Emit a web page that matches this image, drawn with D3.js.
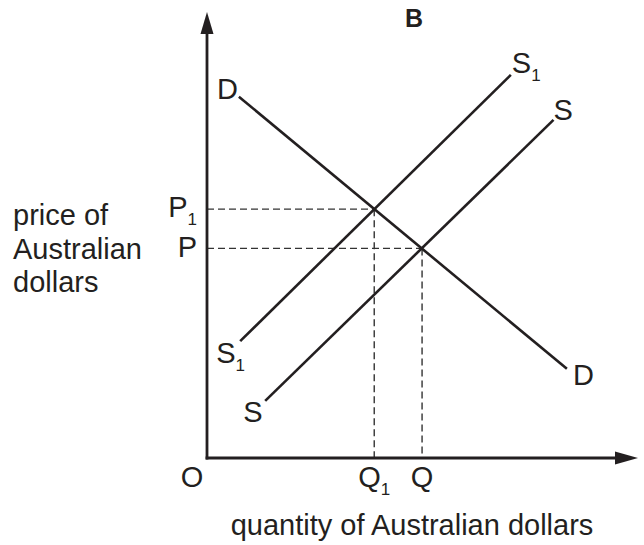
<!DOCTYPE html>
<html>
<head>
<meta charset="utf-8">
<script src="https://cdn.jsdelivr.net/npm/d3@7"></script>
<style>
  body { margin: 0; background: #fff; }
  svg text { font-family: Arial, "Liberation Sans", Helvetica, sans-serif; fill: #231f20; }
</style>
</head>
<body>
<div id="chart"></div>
<script>
// curves: [x, y] at each end, in arbitrary units (0-100)
var demand = [[7.4, 81.0], [83.5, 20.0]];
var supply1 = [[7.7, 26.2], [70.5, 85.9]];
var supply = [[13.5, 12.8], [80.4, 75.8]];

// equilibrium points, read at the crossings
var eqQuantity = [38.8, 49.9];   // Q1, Q
var eqPrice = [55.8, 47.0];      // P1, P
var eqQLabels = [["Q", "1"], ["Q", ""]];
var eqPLabels = [["P", "1"], ["P", ""]];

var width = 644, height = 545;
var ink = "#231f20";

var x = d3.scaleLinear().domain([0, 100]).range([207, 638]);
var y = d3.scaleLinear().domain([0, 100]).range([458, 12]);

var svg = d3.select("#chart").append("svg")
	.attr("width", width)
	.attr("height", height);

// label with optional subscript
function addLabel(g, px, py, main, sub, anchor) {
	var t = g.append("text")
		.attr("x", px)
		.attr("y", py)
		.attr("text-anchor", anchor || "start")
		.style("font-size", "29px");
	t.append("tspan").text(main);
	if (sub) {
		t.append("tspan")
			.attr("dy", 8)
			.attr("dx", 0)
			.style("font-size", "17px")
			.text(sub);
	}
	return t;
}

// dashed guides
var eq = eqQuantity.map(function(q, i) { return { q: q, p: eqPrice[i] }; });
svg.selectAll(".hguide")
	.data(eq)
	.enter().append("line")
	.attr("x1", x(0))
	.attr("x2", function(d) { return x(d.q); })
	.attr("y1", function(d) { return y(d.p); })
	.attr("y2", function(d) { return y(d.p); })
	.style("stroke", "#333")
	.style("stroke-width", 1.4)
	.style("stroke-dasharray", "7,4");
svg.selectAll(".vguide")
	.data(eq)
	.enter().append("line")
	.attr("x1", function(d) { return x(d.q); })
	.attr("x2", function(d) { return x(d.q); })
	.attr("y1", function(d) { return y(d.p); })
	.attr("y2", y(0))
	.style("stroke", "#333")
	.style("stroke-width", 1.4)
	.style("stroke-dasharray", "7,4");

// curves
var line = d3.line()
	.x(function(d) { return x(d[0]); })
	.y(function(d) { return y(d[1]); });

[demand, supply1, supply].forEach(function(c) {
	svg.append("path")
		.datum(c)
		.attr("d", line)
		.style("fill", "none")
		.style("stroke", ink)
		.style("stroke-width", 2.6);
});

// axes with arrowheads
var ox = x(0), oy = y(0), topY = y(100), rightX = x(100);
svg.append("line")
	.attr("x1", ox).attr("y1", oy + 1.4)
	.attr("x2", ox).attr("y2", topY + 20)
	.style("stroke", ink).style("stroke-width", 2.8);
svg.append("line")
	.attr("x1", ox - 1.4).attr("y1", oy)
	.attr("x2", rightX - 20).attr("y2", oy)
	.style("stroke", ink).style("stroke-width", 2.8);
svg.append("path")
	.attr("d", "M" + ox + "," + topY + "L" + (ox - 6.5) + "," + (topY + 22) + "L" + (ox + 6.5) + "," + (topY + 22) + "Z")
	.style("fill", ink);
svg.append("path")
	.attr("d", "M" + rightX + "," + oy + "L" + (rightX - 23) + "," + (oy - 6.5) + "L" + (rightX - 23) + "," + (oy + 6.5) + "Z")
	.style("fill", ink);

// curve labels, offset from the line ends
addLabel(svg, x(demand[0][0]) - 22, y(demand[0][1]) + 2, "D");
addLabel(svg, x(demand[1][0]) + 6, y(demand[1][1]) + 16, "D");
addLabel(svg, x(supply1[1][0]) + 1, y(supply1[1][1]) - 2, "S", "1");
addLabel(svg, x(supply1[0][0]) - 24, y(supply1[0][1]) + 22, "S", "1");
addLabel(svg, x(supply[1][0]), y(supply[1][1]), "S");
addLabel(svg, x(supply[0][0]) - 22, y(supply[0][1]) + 21, "S");

// axis labels at equilibrium values
eq.forEach(function(d, i) {
	addLabel(svg, x(d.q), oy + 29, eqQLabels[i][0], eqQLabels[i][1], "middle");
	addLabel(svg, ox - 10, y(d.p) + 8 - (eqPLabels[i][1] ? 0 : -1), eqPLabels[i][0], eqPLabels[i][1], "end");
});
addLabel(svg, ox - 15, oy + 29, "O", "", "middle");

// titles
svg.append("text")
	.attr("x", 414)
	.attr("y", 27)
	.attr("text-anchor", "middle")
	.style("font-size", "25px")
	.style("font-weight", "bold")
	.text("B");

svg.append("text")
	.attr("x", 412)
	.attr("y", 535)
	.attr("text-anchor", "middle")
	.style("font-size", "29px")
	.text("quantity of Australian dollars");

var yTitle = ["price of", "Australian", "dollars"];
svg.append("text")
	.attr("x", 13)
	.attr("y", 225)
	.style("font-size", "29px")
	.selectAll("tspan")
	.data(yTitle)
	.enter().append("tspan")
	.attr("x", 13)
	.attr("dy", function(d, i) { return i ? 33.5 : 0; })
	.text(function(d) { return d; });
</script>
</body>
</html>
